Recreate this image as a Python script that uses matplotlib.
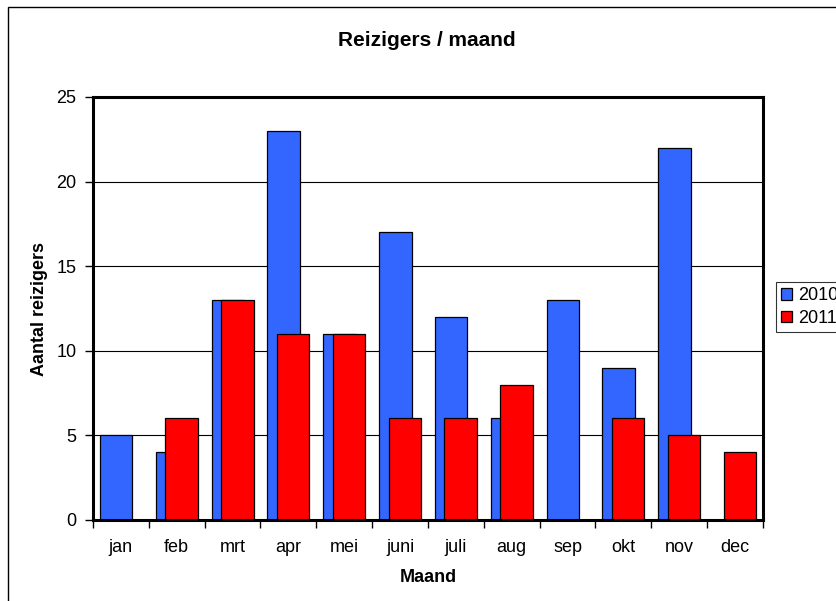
import matplotlib
matplotlib.use("Agg")
import matplotlib.pyplot as plt
import numpy as np
from matplotlib.patches import Rectangle

plt.rcParams['font.family'] = ['Liberation Sans', 'DejaVu Sans']

months = ["jan", "feb", "mrt", "apr", "mei", "juni", "juli", "aug", "sep", "okt", "nov", "dec"]
values_2010 = [5, 4, 13, 23, 11, 17, 12, 6, 13, 9, 22, 0]
values_2011 = [0, 6, 13, 11, 11, 6, 6, 8, 0, 6, 5, 4]
series_labels = ["2010", "2011"]
yticks = [0, 5, 10, 15, 20, 25]

W, H = 837, 601
fig = plt.figure(figsize=(W / 100, H / 100), dpi=100)
fig.patch.set_facecolor("white")

# outer chart border (cropped at right/bottom like the reference)
fig.patches.append(Rectangle((8 / W, -0.05), 1.2, 1 - 7 / H + 0.05, transform=fig.transFigure,
                             fill=False, edgecolor="black", linewidth=1.0))

left, right, top, bottom = 93, 763, 97, 520
ax = fig.add_axes([left / W, 1 - bottom / H, (right - left) / W, (bottom - top) / H])

x = np.arange(len(months))
bw = 0.58
off = 0.085
ax.bar(x - off, values_2010, width=bw, color="#3366FF", edgecolor="black", linewidth=0.9,
       label=series_labels[0], zorder=3)
ax.bar(x + off, values_2011, width=bw, color="#FF0000", edgecolor="black", linewidth=0.9,
       label=series_labels[1], zorder=4)

ax.set_xlim(-0.5, len(months) - 0.5)
ax.set_ylim(0, 25)
ax.set_yticks(yticks)
ax.set_yticklabels([str(t) for t in yticks], fontsize=13)
ax.set_xticks(x)
ax.set_xticklabels(months, fontsize=13)
ax.set_xticks(np.arange(len(months) + 1) - 0.5, minor=True)
ax.tick_params(axis="x", which="major", length=0, pad=14)
ax.tick_params(axis="x", which="minor", length=6, width=1, direction="out")
ax.tick_params(axis="y", length=6, width=1, direction="out", pad=6)

for t in yticks[1:-1]:
    ax.axhline(t, color="black", linewidth=0.8, zorder=1)

for s in ax.spines.values():
    s.set_linewidth(2.2)
    s.set_color("black")
    s.set_zorder(5)

ax.set_xlabel("Maand", fontsize=13, fontweight="bold", labelpad=9)
ax.set_ylabel("Aantal reizigers", fontsize=13, fontweight="bold", labelpad=6)
fig.text(427 / W, 1 - 40 / H, "Reizigers / maand", ha="center", va="center",
         fontsize=15, fontweight="bold")

leg = fig.legend(loc="upper left", bbox_to_anchor=(776 / W, 1 - 282 / H),
                 frameon=True, fancybox=False, edgecolor="black", fontsize=13,
                 handlelength=0.6, handleheight=0.6, handletextpad=0.3,
                 borderpad=0.3, labelspacing=0.3, borderaxespad=0)
leg.get_frame().set_linewidth(0.8)

fig.savefig("out.png", dpi=100)
